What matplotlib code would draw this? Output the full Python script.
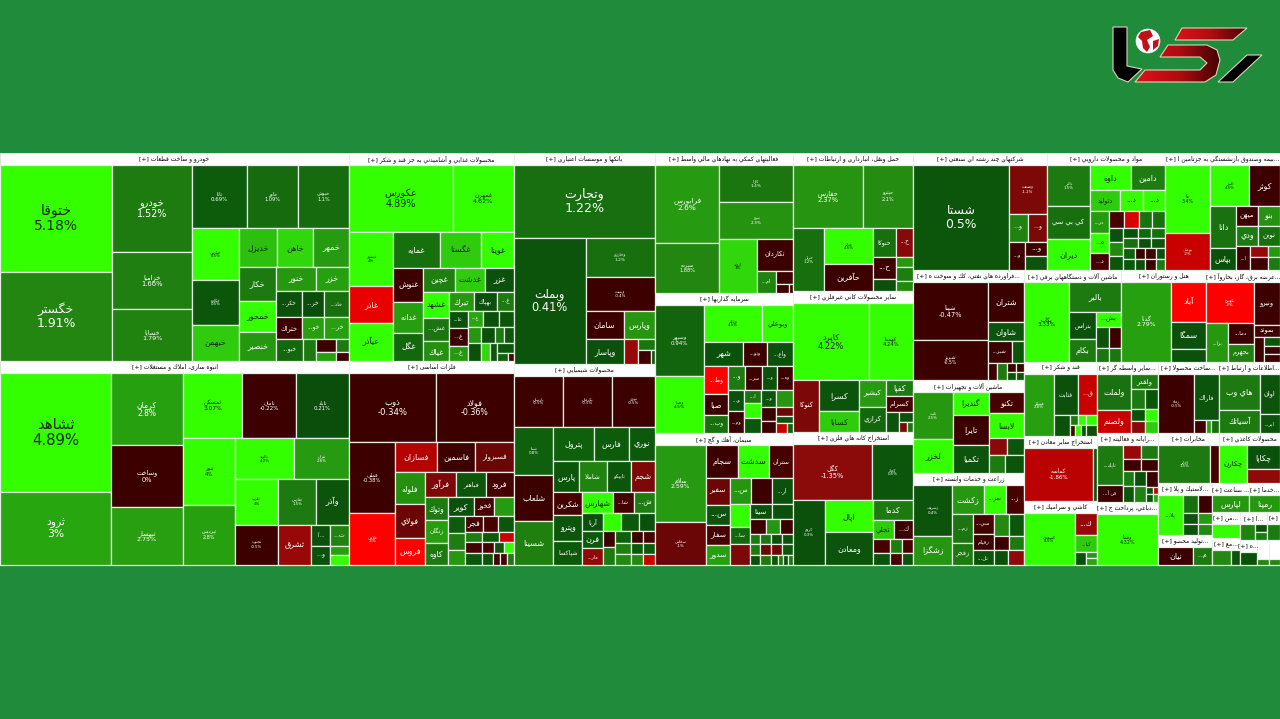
#!/usr/bin/python3
import matplotlib
matplotlib.use('Agg')
import matplotlib.pyplot as plt
import numpy as np
from matplotlib.colors import LinearSegmentedColormap, Normalize
from matplotlib.patches import Rectangle, Polygon, Circle

plt.rcParams['font.family'] = ['DejaVu Sans']

# cells are (size, change, name, percent text); a list is [size, children...]
auto = [
    [112, (106, 5.18, 'ختوقا', '5.18%'), (89, 1.91, 'خگستر', '1.91%')],
    [80, (87, 1.52, 'خودرو', '1.52%'), (56, 1.66, 'خزامیا', '1.66%'), (52, 1.79, 'خساپا', '1.79%')],
    [157,
     [63, (55, 0.69, 'تاتا', '0.69%'), (51, 1.09, 'خاور', '1.09%'), (51, 1.1, 'خبوش', '1.1%')],
     [132,
      [47, (51, 4.5, 'خپارس', '4.5%'), (45, 0.5, 'خكاوه', '0.5%'), (36, 3.03, 'خبهمن')],
      [110,
       [38, (38, 3.02, 'خدیزل'), (35, 3.04, 'خاهن'), (36, 2.6, 'خمهر')],
       [94,
        [37, (34, 1.5, 'خكار'), (31, 4.5, 'خمحور'), (29, 2.5, 'خنصیر')],
        [73,
         [24, (40, 2.5, 'خنور'), (33, 2.8, 'خزر')],
         [25, (25, 0.3, 'خكر...'), (22, 0.2, 'خر...'), (24, 1.2, 'خاذ...')],
         [22, (25, -0.5, 'ختراك'), (22, 2.8, 'خو...'), (24, 2.8, 'خر...')],
         [21, (25, 1.0, 'خبو...'), (12, 1.5), [18, (12, -0.5), (9, 2.8)], [12, (12, 1.5), (9, -0.5)]],
         ]]]]],
]

build = [
    [111, (118, 4.89, 'ثشاهد', '4.89%'), (73, 3.0, 'ثرود', '3%')],
    [72, (72, 2.8, 'كرمان', '2.8%'), (61, 0.0, 'وساخت', '0%'), (58, 2.75, 'ثبهسار', '2.75%')],
    [166,
     [65, (59, 3.07, 'ثمسكن', '3.07%'), (54, -0.22, 'ثامان', '-0.22%'), (53, 0.21, 'ثاباد', '0.21%')],
     [126,
      [52, (66, 4.1, 'ثنور', '4%'), (60, 2.8, 'ثپردیس', '2.8%')],
      [114,
       [40, (59, 4.2, 'ثالوند', '4.2%'), (55, 2.6, 'ثتران', '2.6%')],
       [46, (43, 4.2, 'ثغرب', '4%'), (38, 1.5, 'ثفارس', '1.5%'), (33, 0.4, 'وآذر')],
       [40, (43, -0.5, 'ثجنوب', '-0.5%'), (33, -1.5, 'ثشرق'), [38, [21, (19, 0.3, '... آ'), (19, 1.8, 'ث...')],
                                                               [19, (19, 0.3, 'و...'), [19, (9, 2.8), (10, 3.2)]]]],
       ]]],
]

food = [[1,
    [67, (103, 4.89, 'عكورس', '4.89%'), (61, 4.62, 'غمهرن', '4.62%')],
    [128,
     [44, (53, 4.5, 'غبشهر', '4%'), (37, -2.6, 'غاذر'), (38, 4.5, 'عيآذر')],
     [120,
      [35, (46, 1.2, 'غمایه'), (41, 3.03, 'غگستا'), (33, 4.5, 'غويتا')],
      [93,
       [30, (34, -0.5, 'غنوش'), (31, 2.7, 'غدانه'), (28, 1.0, 'غگل')],
       [90,
        [24, (31, 1.7, 'غچین'), (30, 3.03, 'غدشت'), (29, 0.3, 'غزر')],
        [69,
         [25, (25, 4.5, 'غشهد'), (23, 1.4, 'غش...'), (19, 2.2, 'غیاك')],
         [65,
          [19, (25, 2.5, 'تبرك'), (23, 0.3, 'بهپاك'), (17, 1.5, 'غ...')],
          [50,
           [19, (17, 0.3, 'عا...'), (18, -0.5, 'غ...'), (15, 2.5, 'غ...')],
           [46,
            [16, (15, 3.0, 'غ...'), (16, 0.3), (15, 0.5)],
            [34,
             [13, (16, 2.4), (17, 0.3)],
             [33,
              [16, (14, 0.3), (9, 1.5), (10, 0.5)],
              [17, (9, 3.04), (8, 0.5), [17, (9, 0.5), [8, (11, 0.9), (6, -0.6)]]],
              ]]]]]]]]]],
]]

banks = [[1,
    [73, (140, 1.22, 'وتجارت', '1.22%')],
    [126,
     [71, (126, 0.41, 'وبملت', '0.41%')],
     [69,
      (39, 1.2, 'وخارزم', '1.2%'),
      (34, -0.4, 'وپست', '-0.4%'),
      [28, (38, -0.5, 'سامان'), (31, 2.4, 'وپارس')],
      [25, (38, 0.3, 'وپاسار'), (14, -1.5), [17, (11, 1.4), [14, (12, -0.5), (4, 0.5)]]],
      ]],
]]

metals = [[1,
    [68, (86, -0.34, 'ذوب', '-0.34%'), (78, -0.36, 'فولاد', '-0.36%')],
    [122,
     [46, (71, -0.38, 'فملی', '-0.38%'), (51, -3.0, 'فلامی', '-3%')],
     [118,
      [30, (41, -1.8, 'فسازان'), (38, -0.5, 'فاسمین'), (38, -1.0, 'فسبزوار')],
      [92,
       [29, (32, 2.2, 'فلوله'), (33, -1.0, 'فولاي'), (27, -3.0, 'فروس')],
       [88,
        [25, (31, -1.2, 'فرآور'), (29, 0.5, 'فباهنر'), (28, -0.6, 'فرود')],
        [67,
         [23, (22, 1.5, 'وتوك'), (23, 2.7, 'زنگان'), (22, 1.5, 'كاوه')],
         [65,
          [19, (25, 0.3, 'كویر'), (20, -0.6, 'فخوز'), (19, 2.6)],
          [48,
           [17, (16, 0.7), (17, 1.6), (15, 2.5)],
           [48,
            [15, (17, -0.6, 'فجر'), (15, -0.6), (15, 0.5)],
            [10, (14, 1.6), (15, 0.6), (13, -2.0)],
            [11, (14, -0.6), (11, -0.6), (8, 0.5), (9, 4.5)],
            [12, (14, 0.5), (9, 0.5), (6, -0.6), (6, -0.6), (6, 1.5)],
            ]]]]]]]],
]]

chem = [[1,
    [50, (49, -0.5, 'پارسان', '-0.5%'), (48, -0.5, 'پكرمان', '-0.5%'), (43, -0.5, 'نوری', '-0.5%')],
    [137,
     [39, (48, 0.8, 'شپنا', '0.8%'), (45, -0.5, 'شلعاب'), (44, 1.7, 'شسینا')],
     [101,
      [34, (40, 0.8, 'پترول'), (34, 0.7, 'فارس'), (26, 0.6, 'نوري')],
      [31, (26, 0.5, 'پارس'), (27, 1.8, 'شاملا'), (24, 0.5, 'تاپیكو'), (24, -1.2, 'شجم')],
      [72,
       [29, (23, -0.6, 'شكربن'), (25, 0.5, 'وپترو'), (24, 0.6, 'شپاكسا')],
       [72,
        [21, (30, 4.5, 'شهارس'), (20, -0.6, 'شا...'), (21, 1.6, 'ش...')],
        [51,
         [20, (17, 0.3, 'آريا'), (17, 0.6, 'فرن'), (17, -1.4, 'مار...')],
         [51,
          [17, (18, 4.5), (17, 0.6), (16, 0.3)],
          [34,
           [12, (16, -0.5), (18, 1.5)],
           [39,
            [12, (14, 0.8), (11, -0.5), (11, -0.6)],
            [11, (14, 1.7), (11, 0.6), (11, 0.6)],
            [11, (14, 2.0), (11, 2.0), (11, -2.0)],
            ]]]]]]]],
]]

fin_aid = [
    [64, (78, 2.6, 'فرابورس', '2.6%'), (50, 1.9, 'سپرده', '1.88%')],
    [73,
     (37, 1.4, 'كارا', '1.4%'),
     (37, 2.3, 'نیرو', '2.3%'),
     [54, (37, 3.04, 'اروند', '3%'),
      [36, (31, -0.5, 'تكاردان'),
       [22, (18, 1.8, 'ام...'), [16, (13, -0.5), [9, (12, -0.5), (4, -0.5)]]]]],
     ],
]

invest = [
    [49, (70, 0.94, 'وسپهر', '0.94%'), (56, 4.5, 'وصنا', '4.5%')],
    [88,
     [36, (57, 4.5, 'وبانك', '4.5%'), (31, 4.5, 'وبوعلي')],
     [24, (38, 0.3, 'شهر'), (23, -0.5, 'وتو...'), (26, 0.3, 'واع...')],
     [66,
      [23, (26, -3.0, 'وط...'), (19, -0.5, 'صبا'), (17, 1.2, 'وب...')],
      [65,
       [23, (17, 1.5, 'و...'), (16, -0.5, 'سر...'), (14, 0.3, 'و...'), (15, -0.5, 'وه...')],
       [42,
        [17, (21, 0.3, 'و...'), (21, -0.5, 'وم...')],
        [17, (13, 1.4, 'ا...'), (14, 3.6), (14, 0.5)],
        [15, (16, 0.5, 'و...'), (13, -0.5), (11, -0.5)],
        [17, (16, 2.4), (8, -1.0), (7, 0.4), [9, (10, -2.0), (5, 0.8)]],
        ]]]],
]

cement = [
    [51, (76, 2.59, 'سلام', '2.59%'), (42, -1.0, 'سخاش', '-1%')],
    [86,
     [32, (31, -0.5, 'سجام'), (31, 4.5, 'سدشت'), (24, -0.6, 'ستران')],
     [86,
      [23, (27, -1.0, 'سفیر'), (20, 0.4, 'س...'), (19, -0.6, 'سفار'), (20, 2.8, 'سدور')],
      [63,
       [26, (21, 2.4, 'س...'), (20, -0.5), (21, 0.3, 'ار...')],
       [59,
        [20, (22, 4.5), (17, 1.0, 'سا...'), (20, -1.2)],
        [43,
         [14, (22, 0.3, 'سیتا'), (21, 0.3)],
         [15, (16, -0.5), (14, 2.4), (13, -0.5)],
         [10, (10, 1.5), (11, 1.4), (11, 0.3), (11, 0.3)],
         [10, (10, 1.5), (11, -1.0), (11, -1.0), (11, 0.5)],
         [10, (10, 0.3), (11, 1.5), (6, 0.5), (5, 1.5), (5, 0.3), (5, 1.5)],
         ]]]]],
]

transport = [[1,
    [63, (69, 2.37, 'حفارس', '2.37%'), (50, 2.1, 'حپترو', '2.1%')],
    [63,
     [31, (63, 1.2, 'حریل', '1.2%')],
     [48, (36, 4.5, 'حتاید', '4.5%'), (27, -0.5, 'حآفرین')],
     [40,
      [29, (23, 1.2, 'حتوكا'), (17, -1.3, 'ح...')],
      [34,
       [23, (22, -0.5, 'ح...'), (12, 0.3)],
       [17, (10, 2.5), (14, 1.6), (10, 2.0)],
       ]],
     ],
]]

nonmetal = [[1,
    [75, (75, 4.22, 'كاپرد', '4.22%'), (44, 4.24, 'كهمدا', '4.24%')],
    [51,
     [26, (51, -1.2, 'كنوكا')],
     [39, (30, 0.4, 'كسرا'), (21, 3.03, 'كسابا')],
     [27, (27, 2.6, 'كيشير'), (24, 1.0, 'كرازي')],
     [27, (16, 1.5, 'كفپا'), (15, -0.6, 'كسرام'),
      [20, (14, 0.4), [14, (10, 0.3), [10, (8, -1.2), (6, 1.4)]]]],
     ],
]]

mining = [[1,
    [55, (78, -1.35, 'كگل', '-1.35%'), (41, 0.5, 'كچاد', '0.5%')],
    [64,
     [32, (64, 0.3, 'كروم', '0.3%')],
     [47, (32, 4.5, 'اپال'), (32, 0.4, 'ومعادن')],
     [40,
      (20, 1.5, 'كدما'),
      [18, (21, 3.03, 'تجلي'), (19, -0.5, 'ك...')],
      [14, (16, -0.6), (12, 1.6), (10, -0.6)],
      [12, (16, 0.4), (12, -0.6), (10, 0.4)],
      ],
     ],
]]

multi = [
    [95, (105, 0.5, 'شستا', '0.5%')],
    [38,
     (49, -1.2, 'وصنعت', '-1.2%'),
     [28, (19, 1.8, 'و...'), (19, -1.2, 'و...')],
     [28, (16, -0.5, 'و...'), [22, (14, -0.5, 'و...'), (14, 0.4)]],
     ],
]

pharma = [
    [43, (41, 1.5, 'دالبر', '1.5%'), (33, 1.2, 'كي بي سي'), (31, 4.5, 'ديران')],
    [75,
     [25, (41, 4.5, 'داوه'), (34, 1.6, 'دامين')],
     [21, (30, 3.03, 'دتوليد'), (22, 4.5, 'د...'), (22, 4.5, 'د...')],
     [59,
      [19, (22, 2.6, 'در...'), (20, 4.5, 'ه...'), (17, -0.6, 'د...')],
      [55,
       [17, (15, -0.6), (14, -2.3), (13, 1.3), (13, 1.2)],
       [42,
        [14, (14, 0.3), (14, 2.0), (14, 0.4)],
        [41,
         [10, (14, 0.3), (13, 1.0), (13, 1.2)],
         [10, (14, 1.2), (13, 0.3), (13, 0.5)],
         [10, (11, 0.8), (10, -0.5), (10, -0.5), (9, 0.3)],
         [11, (11, 0.5), (10, 0.3), (10, -0.5), (9, 1.5)],
         ]]]]],
]

insurance = [
    [45, (68, 3.4, 'ما', '3.4%'), (37, -2.0, 'بوعلي', '-2%')],
    [70,
     [41, (39, 4.5, 'البرز', '4.5%'), (31, -0.5, 'كوثر')],
     [64,
      [26, (42, 1.3, 'دانا'), (22, 0.3, 'بپاس')],
      [44,
       [20, (22, -0.5, 'ميهن'), (22, 2.3, 'بنو')],
       [20, (22, 1.5, 'ودي'), (22, 1.2, 'نوين')],
       [24, (14, -0.5, 'ا...'), [18, (11, -1.5), (13, -0.5)], [12, (11, 2.5), (13, 1.5)]],
       ]]],
]

refinery = [
    [74, (57, -0.47, 'شپنا', '-0.47%'), (39, -0.5, 'شبریز', '-0.5%')],
    [36,
     (39, -0.5, 'شتران'),
     (19, 0.4, 'شاوان'),
     [21, (24, -0.5, 'شبر...'), (12, 0.4)],
     [17, (9, -0.5), (10, 1.5), [9, (9, -0.5), (8, 0.4)], [8, (9, -0.5), (8, 0.4)]],
     ],
]

electric = [
    [45, (78, 3.33, 'بكاب', '3.33%')],
    [51,
     [29, (51, 1.5, 'بالبر')],
     [49,
      [26, (27, 0.3, 'بتراتس'), (22, 1.5, 'بكام')],
      [24, (15, 4.5, 'بش...'), [20, (12, 0.4), (12, -0.5)], [14, (12, 1.4), (12, 1.4)]],
      ]],
]

hotel = [
    [50, (78, 2.79, 'گدنا', '2.79%')],
    [35, (39, -3.0, 'آباد'), (26, 0.3, 'سمگا'), (13, 0.3)],
]

power = [
    [47,
     (40, -3.0, 'بكهنوج', '-3%'),
     [38, (22, 2.5, 'بزا...'), [25, (20, -0.5, 'دما...'), (18, 1.7, 'بجهرم')]],
     ],
    [26, (42, -0.5, 'ونيرو'), (12, -0.5, 'بموتد'),
     [24, (10, -0.5), [15, (8, 0.5), (8, -0.5), (8, -0.5)]]],
]

sugar = [
    [30, (57, 2.8, 'قشكر', '2.8%')],
    [42,
     [38, (23, 0.3, 'قثابت'), (19, -2.0, 'ق...')],
     [20, (15, 0.3), [15, [10, (7, 1.5), (7, 3.3)], [10, (7, -0.6), (7, 3.3), (6, 0.3)]], [11, (10, 3.3), (10, 0.3)]],
     ],
]

other_mining = [
    [68, (52, -1.86, 'كماسه', '-1.86%')],
    [4, (52, 0.4)],
]

tiles = [
    [50, (51, 4.5, 'كسعدي', '4.5%')],
    [22, (22, -1.5, 'ك...'), (16, 3.03, 'كيا...'),
     [13, (11, 0.3), [10, (6, 2.4), (6, 3.0)]]],
]

other_fin = [
    [34, (34, 1.3, 'ولملت'), (22, -2.0, 'ولصنم')],
    [27,
     (14, 1.5, 'ولقدر'),
     [19, (13, 1.5), (13, 0.5)],
     [12, (13, 0.3), (13, 3.3)],
     [11, (13, -1.3), (13, 3.03)],
     ],
]

computer = [
    [26, (39, 1.5, 'تاپك...'), (17, -0.5, 'فن آ...')],
    [35,
     [14, (17, -1.5), (17, 1.5)],
     [12, (17, -0.5), (17, -0.5)],
     [30,
      [11, (14, 1.5), (16, 0.5)],
      [12, (14, 0.3), (16, 1.8)],
      [12, (15, -0.5), [15, [9, (7, 0.3), (7, 0.4)], [6, (7, -2.0), (7, 3.0)]]],
      ]],
]

dabaghi = [[50, (61, 4.32, 'وشنا', '4.32%')]]

product = [
    [36, (56, -0.5, 'رفاه', '-0.5%')],
    [25, (44, 0.4, 'فاراك'), [12, (12, -0.5), (5, 2.8), (8, 1.2)]],
]

itc = [
    [40, (34, 1.5, 'هاي وب'), (22, 1.5, 'آسياتك')],
    [20, (38, 0.4, 'اوان'), (18, 0.4, 'ابر...')],
]

telecom = [
    [52, (36, 1.5, 'اخابر', '1.5%')],
    [9, (36, -0.6)],
]

paper = [
    [28, (36, 4.5, 'چكارن')],
    [33, (23, 0.3, 'چكاپا'), (13, -1.4)],
]

tire = [
    [25, (40, 4.5, 'پلا...')],
    [29,
     [18, (15, 1.2), (14, -0.5)],
     [22, [15, (10, 0.4), (10, 0.4)], [14, (10, 2.6), (10, 2.0)]],
     ],
]

food_prod = [[35, (18, -0.5, 'نيان')], [19, (18, 1.5, 'م...')]]
wood = [[37, (17, 2.5, 'لپارس')]]
service = [[31, (17, 2.5, 'رمپنا')]]
misc_a = [[28, (11, 4.5)]]
misc_b = [[19, (12, 2.0)], [9, (12, 0.4)]]
misc_c = [[12, (14, 1.8)], [10, (7, 0.3), (7, 1.5)]]
misc_d = [[1, (11, 0.3)]]
misc_e = [[1, (14, 1.5)]]
misc_f = [[1, (3, 1.9)]]
misc_g = [[1, (3, 1.9)]]

# group titles, one per industry
titles = {
    'auto': 'خودرو و ساخت قطعات [+]',
    'build': 'انبوه سازی، املاك و مستغلات [+]',
    'food': 'محصولات غذايي و آشاميدني به جز قند و شكر [+]',
    'banks': 'بانكها و موسسات اعتباري [+]',
    'metals': 'فلزات اساسی [+]',
    'chem': 'محصولات شيميايي [+]',
    'fin_aid': 'فعاليتهاي كمكي به نهادهاي مالي واسط [+]',
    'invest': 'سرمايه گذاريها [+]',
    'cement': 'سيمان، آهك و گچ [+]',
    'transport': 'حمل ونقل، انبارداري و ارتباطات [+]',
    'nonmetal': 'ساير محصولات كاني غيرفلزي [+]',
    'mining': 'استخراج كانه هاي فلزي [+]',
    'multi': 'شركتهاي چند رشته اي صنعتي [+]',
    'pharma': 'مواد و محصولات دارويي [+]',
    'insurance': '...بيمه وصندوق بازنشستگي به جزتامين ا [+]',
    'refinery': '...فراورده هاي نفتي، كك و سوخت ه [+]',
    'machinery': 'ماشين آلات و تجهيزات [+]',
    'agri': 'زراعت و خدمات وابسته [+]',
    'electric': 'ماشين آلات و دستگاه‌هاي برقي [+]',
    'hotel': 'هتل و رستوران [+]',
    'power': '...عرضه برق، گاز، بخاروآ [+]',
    'sugar': 'قند و شكر [+]',
    'other_mining': 'استخراج ساير معادن [+]',
    'tiles': 'كاشي و سراميك [+]',
    'other_fin': '...ساير واسطه گر [+]',
    'computer': '...رايانه و فعاليته [+]',
    'dabaghi': '...دباغي، پرداخت ج [+]',
    'product': '...ساخت محصولا [+]',
    'itc': '...اطلاعات و ارتباط [+]',
    'telecom': 'مخابرات [+]',
    'paper': 'محصولات كاغذي [+]',
    'tire': '...لاستيك و پلا [+]',
    'food_prod': '...توليد محصو [+]',
    'wood': '... صناعت [+]',
    'service': '...خدما [+]',
    'misc_a': '...من [+]',
    'misc_b': '...مع [+]',
    'misc_c': '...ا [+]',
    'misc_d': '...ه [+]',
    'misc_e': '[+]',
    'misc_f': '',
    'misc_g': '',
}

machinery = [
    [40, (40, 2.5, 'ثابت', '2.5%'), (29, 4.5, 'لخزر')],
    [36, (18, 4.5, 'گندیرا'), (23, -0.5, 'تايرا'), (22, 0.4, 'تكمیا')],
    [35, (18, -0.6, 'تكنو'), (21, 4.5, 'لابسا'), [15, (15, -1.3), (15, 0.5)], [15, (7, 1.5), (8, 0.4)]],
]

agri = [
    [39, (50, 0.4, 'زشریف', '0.4%'), (28, 2.4, 'زشگزا')],
    [71,
     [28, (30, 2.5, 'زكشت'), (20, 4.2, 'سز...'), (17, -0.6, 'ز...')],
     [50,
      [20, (25, 1.4, 'زم...'), (19, 1.5, 'زفجر')],
      [21, (18, -0.6, 'سي...'), (14, -0.5, 'زقیام'), (13, 0.4, 'تل...')],
      [30, [18, (13, 2.0), (13, 0.5)], [12, (13, -0.5), (13, 1.5)], [12, (6, 0.3), (7, -1.4)]],
      ]],
]

HEADER = 12


def sector(weight, key, body, head=HEADER):
    return {'w': weight, 'title': titles[key], 'body': body, 'head': head}


market = [
    [349, sector(208, 'auto', auto), sector(204, 'build', build)],
    [165, sector(208, 'food', food), sector(204, 'metals', metals)],
    [141, sector(211, 'banks', banks), sector(201, 'chem', chem)],
    [138, sector(140, 'fin_aid', fin_aid), sector(140, 'invest', invest), sector(132, 'cement', cement)],
    [120, sector(138, 'transport', transport), sector(141, 'nonmetal', nonmetal), sector(133, 'mining', mining)],
    [367,
     [117, sector(134, 'multi', multi), sector(118, 'pharma', pharma), sector(115, 'insurance', insurance)],
     [295,
      [111, sector(110, 'refinery', refinery), sector(93, 'machinery', machinery), sector(92, 'agri', agri)],
      [256,
       [92, sector(97, 'electric', electric), sector(85, 'hotel', hotel), sector(74, 'power', power)],
       [203,
        [73, sector(74, 'sugar', sugar), sector(65, 'other_mining', other_mining), sector(64, 'tiles', tiles)],
        [61, sector(71, 'other_fin', other_fin), sector(69, 'computer', computer), sector(63, 'dabaghi', dabaghi)],
        [122,
         [71, sector(61, 'product', product), sector(61, 'itc', itc)],
         [50, sector(61, 'telecom', telecom), sector(61, 'paper', paper)],
         [82,
          [54, sector(52, 'tire', tire), sector(30, 'food_prod', food_prod)],
          [68,
           [29, sector(37, 'wood', wood), sector(31, 'service', service)],
           [53,
            [28, sector(26, 'misc_a', misc_a), sector(27, 'misc_b', misc_b)],
            [40,
             [28, sector(26, 'misc_c', misc_c), sector(12, 'misc_e', misc_e)],
             [25, sector(17, 'misc_d', misc_d), sector(11, 'misc_f', misc_f, head=19), sector(11, 'misc_g', misc_g, head=19)],
             ]]]]]]]]],
]

BG = '#1f8b3b'
EDGE = '#e6efe6'

stops = [(-3, '#ff0000'), (-2, '#c80000'), (-1.35, '#8b0a0a'), (-0.5, '#3d0000'), (0, '#3d0000'),
         (0.001, '#0a480a'), (0.7, '#0d5c0c'), (1.5, '#1d7a10'), (2.2, '#258f10'), (2.8, '#27a010'),
         (3.0, '#28a610'), (3.04, '#30d80b'), (3.07, '#33ff00'), (6, '#33ff00')]
vmin, vmax = stops[0][0], stops[-1][0]
cmap = LinearSegmentedColormap.from_list(
    'change', [((v - vmin) / (vmax - vmin), c) for v, c in stops], N=4096)
norm = Normalize(vmin, vmax)

# matplotlib does no arabic shaping, so pick the presentation forms by hand
# (isolated, final, initial, medial)
four = {'ئ': 0xFE89, 'ب': 0xFE8F, 'ت': 0xFE95, 'ث': 0xFE99, 'ج': 0xFE9D, 'ح': 0xFEA1, 'خ': 0xFEA5,
        'س': 0xFEB1, 'ش': 0xFEB5, 'ص': 0xFEB9, 'ض': 0xFEBD, 'ط': 0xFEC1, 'ظ': 0xFEC5, 'ع': 0xFEC9,
        'غ': 0xFECD, 'ف': 0xFED1, 'ق': 0xFED5, 'ك': 0xFED9, 'ل': 0xFEDD, 'م': 0xFEE1, 'ن': 0xFEE5,
        'ه': 0xFEE9, 'ي': 0xFEF1, 'پ': 0xFB56, 'چ': 0xFB7A, 'ک': 0xFB8E, 'گ': 0xFB92, 'ی': 0xFBFC}
two = {'آ': 0xFE81, 'أ': 0xFE83, 'ؤ': 0xFE85, 'إ': 0xFE87, 'ا': 0xFE8D, 'ة': 0xFE93, 'د': 0xFEA9,
       'ذ': 0xFEAB, 'ر': 0xFEAD, 'ز': 0xFEAF, 'و': 0xFEED, 'ژ': 0xFB8A}
mirror = {'[': ']', ']': '[', '(': ')', ')': '('}


def shape(text):
    text = text.replace('\u200c', '')
    out = []
    i = 0
    prev_joins = False
    while i < len(text):
        ch = text[i]
        nxt = text[i + 1] if i + 1 < len(text) else ''
        if ch == 'ل' and nxt in ('ا', 'آ'):
            base = 0xFEFB if nxt == 'ا' else 0xFEF5
            out.append(chr(base + (1 if prev_joins else 0)))
            prev_joins = False
            i += 2
            continue
        next_is_letter = nxt != '' and (nxt in four or nxt in two)
        if ch in four:
            if prev_joins and next_is_letter:
                form = 3
            elif prev_joins:
                form = 1
            elif next_is_letter:
                form = 2
            else:
                form = 0
            out.append(chr(four[ch] + form))
            prev_joins = True
        elif ch in two:
            out.append(chr(two[ch] + (1 if prev_joins else 0)))
            prev_joins = False
        else:
            out.append(ch)
            prev_joins = False
        i += 1
    return ''.join(mirror.get(c, c) for c in reversed(out))


fig = plt.figure(figsize=(12.8, 7.19), dpi=100, facecolor=BG)
ax = fig.add_axes([0, 0, 1, 1])
ax.set_xlim(0, 1280)
ax.set_ylim(719, 0)
ax.axis('off')


def draw_leaf(leaf, x, y, w, h):
    chg = leaf[1]
    colour = cmap(norm(chg))
    ax.add_patch(Rectangle((x, y), w, h, facecolor=colour, edgecolor=EDGE, linewidth=0.9))
    if len(leaf) < 3:
        return
    name = leaf[2]
    lum = 0.3 * colour[0] + 0.59 * colour[1] + 0.11 * colour[2]
    txt = '#0a2a00' if lum > 0.45 else 'white'
    if len(leaf) > 3:
        fs = max(2.8, (np.sqrt(w * h) - 27) * 0.122)
        label = shape(name) + '\n' + leaf[3]
    else:
        fs = max(3.4, min(5.8, w * 0.8 / (len(name) * 0.62) * 0.72))
        label = shape(name)
    ax.text(x + w / 2, y + h / 2, label, ha='center', va='center', color=txt,
            fontsize=fs, linespacing=1.05)


def layout(children, x, y, w, h, horizontal):
    total = sum(c['w'] if isinstance(c, dict) else c[0] for c in children)
    pos = 0
    for c in children:
        weight = c['w'] if isinstance(c, dict) else c[0]
        if horizontal:
            cx, cy, cw, ch = x + w * pos / total, y, w * weight / total, h
        else:
            cx, cy, cw, ch = x, y + h * pos / total, w, h * weight / total
        pos += weight
        if isinstance(c, dict):
            head = c['head']
            ax.add_patch(Rectangle((cx, cy), cw, head, facecolor='white', edgecolor=EDGE, linewidth=0.6))
            if c['title']:
                ax.text(cx + cw / 2, cy + HEADER / 2, shape(c['title']), ha='center', va='center',
                        color='black', fontsize=4.3, clip_on=True)
            layout(c['body'], cx, cy + head, cw, ch - head, True)
        elif isinstance(c, list):
            layout(c[1:], cx, cy, cw, ch, not horizontal)
        else:
            draw_leaf(c, cx, cy, cw, ch)


layout(market, 0, 153, 1280, 412, True)

# logo
outline = dict(edgecolor='#d9d6b8', linewidth=0.8)
ax.add_patch(Polygon([(1113, 27), (1127, 27), (1127, 66), (1142, 69), (1128, 82), (1118, 78), (1113, 70)],
                     facecolor='black', **outline))
ax.add_patch(Polygon([(1247, 55), (1262, 55), (1233, 82), (1218, 82)], facecolor='black', **outline))
logo_red = LinearSegmentedColormap.from_list('logo', ['#e01018', '#b00c10', '#400004'])
swoosh = Polygon([(1168, 45), (1207, 45), (1217, 50), (1220, 60), (1216, 75), (1205, 82), (1135, 82),
                  (1145, 70), (1200, 70), (1207, 63), (1200, 57), (1160, 57)], facecolor='none', **outline)
top_bar = Polygon([(1182, 28), (1247, 28), (1233, 40), (1175, 40)], facecolor='none', **outline)
ax.add_patch(swoosh)
ax.add_patch(top_bar)
grad = np.linspace(0, 1, 128).reshape(1, -1)
for patch, extent in ((swoosh, (1135, 1222, 84, 43)), (top_bar, (1175, 1249, 42, 26))):
    im = ax.imshow(grad, extent=extent, cmap=logo_red, aspect='auto', zorder=0.9)
    im.set_clip_path(patch)
ax.add_patch(Circle((1148, 41), 12, facecolor='white', edgecolor='#eeeeee', linewidth=0.5))
ax.add_patch(Polygon([(1141, 32), (1150, 30), (1153, 36), (1147, 40), (1150, 47), (1147, 52), (1143, 48),
                      (1142, 41), (1138, 37)], facecolor='#c01018', edgecolor='none'))
ax.add_patch(Polygon([(1153, 41), (1159, 39), (1158, 46), (1153, 50)], facecolor='#c01018', edgecolor='none'))
ax.set_xlim(0, 1280)
ax.set_ylim(719, 0)

fig.savefig('out.png', dpi=100, facecolor=BG)
